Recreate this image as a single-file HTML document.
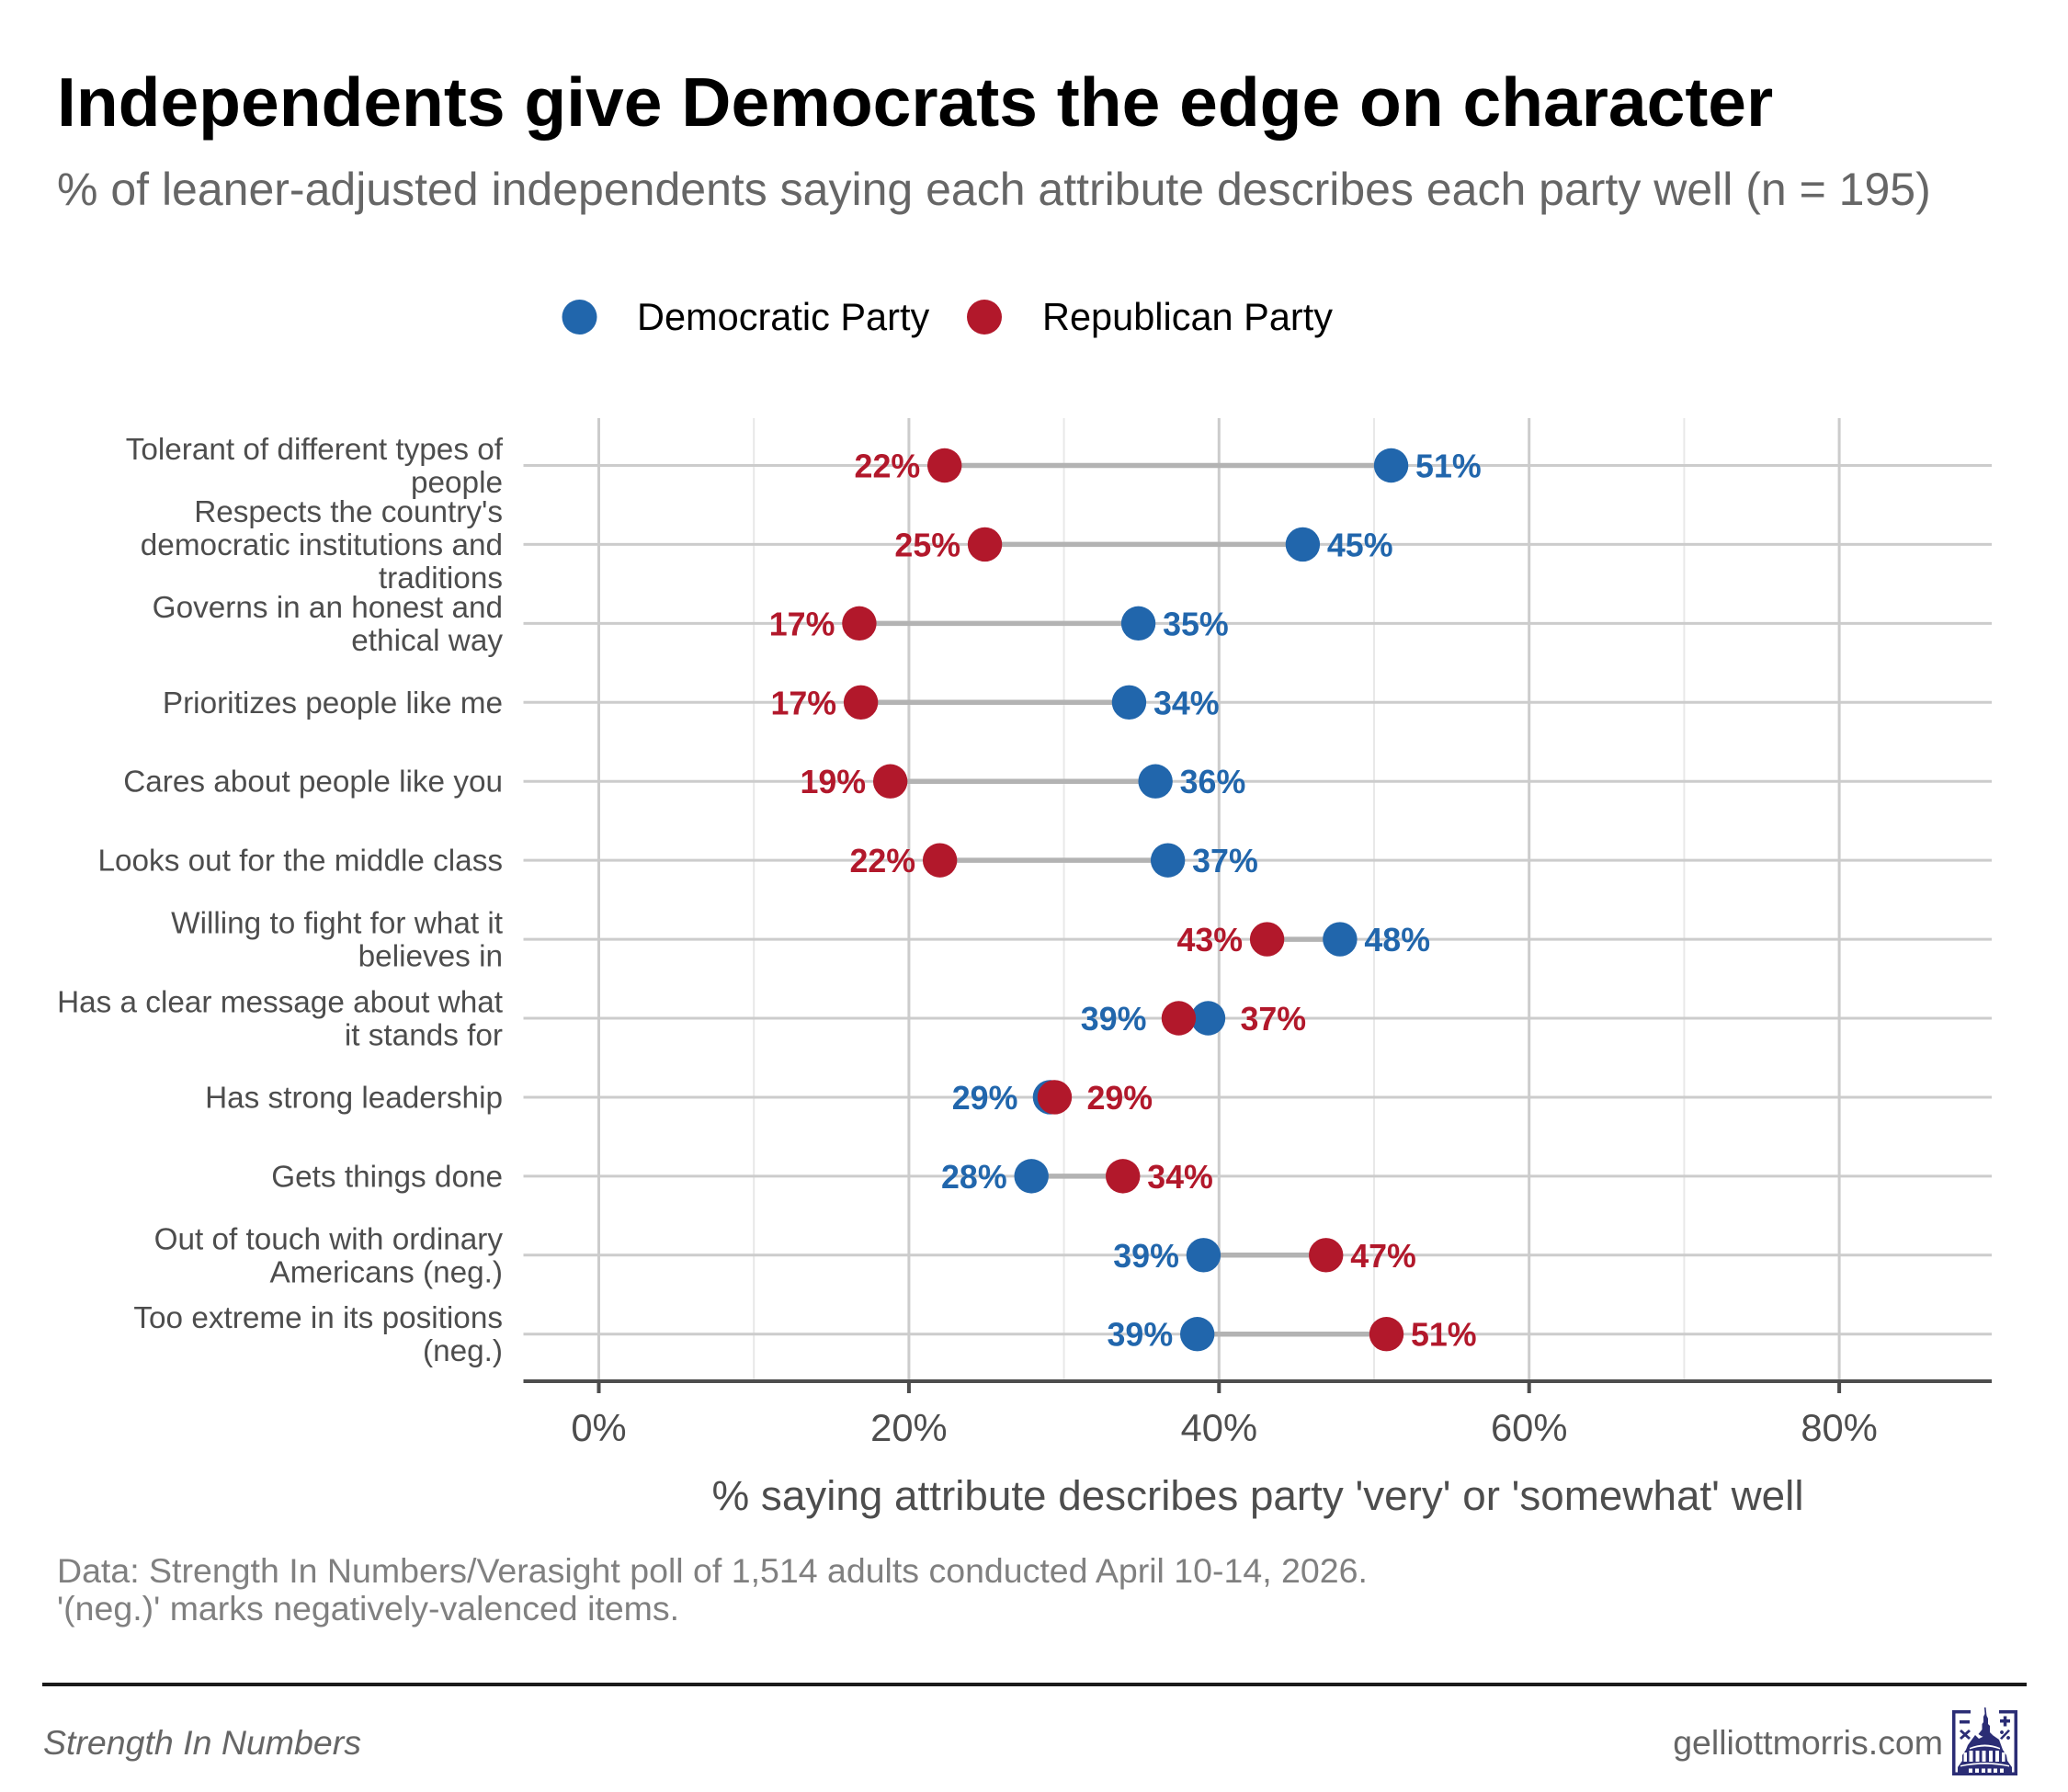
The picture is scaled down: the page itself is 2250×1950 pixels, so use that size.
<!DOCTYPE html>
<html lang="en">
<head>
<meta charset="utf-8">
<title>Independents give Democrats the edge on character</title>
<style>
html,body{margin:0;padding:0;background:#fff;}
svg{display:block;font-family:"Liberation Sans",Arial,sans-serif;}
</style>
</head>
<body>
<svg id="chart" xmlns="http://www.w3.org/2000/svg" width="2250" height="1950" viewBox="0 0 2250 1950">
  <rect width="2250" height="1950" fill="#ffffff"/>
  <text x="62" y="137" font-size="75" font-weight="700" fill="#000000">Independents give Democrats the edge on character</text>
  <text x="62" y="223" font-size="50" fill="#666666">% of leaner-adjusted independents saying each attribute describes each party well (n = 195)</text>

  <g>
    <circle cx="630.500" cy="345" r="19" fill="#2166ac"/>
    <text x="693" y="359" font-size="41.5" fill="#000000">Democratic Party</text>
    <circle cx="1071" cy="345" r="19" fill="#b2182b"/>
    <text x="1134" y="359" font-size="41.5" fill="#000000">Republican Party</text>
  </g>

  <g id="plot"></g>

  <text x="1368.500" y="1643" font-size="45.8" fill="#4d4d4d" text-anchor="middle">% saying attribute describes party 'very' or 'somewhat' well</text>

  <text x="62" y="1722" font-size="37.5" fill="#808080">Data: Strength In Numbers/Verasight poll of 1,514 adults conducted April 10-14, 2026.</text>
  <text x="62" y="1763" font-size="37.5" fill="#808080">'(neg.)' marks negatively-valenced items.</text>

  <rect x="46" y="1831" width="2159" height="4" fill="#1a1a1a"/>
  <text x="47" y="1909" font-size="37.5" font-style="italic" fill="#666666">Strength In Numbers</text>
  <text x="2114" y="1909" font-size="37.5" fill="#666666" text-anchor="end">gelliottmorris.com</text>

  <g fill="#2b2d75">
    <path d="M2124 1861h20v3.500h-16.500v64h64v-64h-16.500v-3.500h20v71h-71z"/>
    <path d="M2159 1858l1.500 0 1 9 1.500 3v6l2 2v7l3 3-7.500 3-5-2-3-2 4-5v-6l1.500-2v-6l1.500-3z"/>
    <rect x="2132" y="1872" width="11" height="3.500"/>
    <rect x="2176" y="1871" width="11" height="3.500"/>
    <rect x="2179.800" y="1867.500" width="3.500" height="11"/>
    <path d="M2134 1882l4 3.500 4-3.500 2 2-4 3.500 4 3.500-2 2-4-3.500-4 3.500-2-2 4-3.500-4-3.500z"/>
    <path d="M2185 1882l2 1.500-9 9.500-2-1.500zM2178 1883a2 2 0 1 0 .01 0zM2185 1889a2 2 0 1 0 .01 0z"/>
    <path d="M2130 1930v-7l5-7v-6l4-6 2-5 8-11 4 4 12-6 10 7 4 11 4 6 1 6 5 7v7z"/>
    <g fill="#ffffff">
      <path d="M2143 1902q16.500-7 33 0l0 1.500q-16.500-6-33 0z"/>
      <rect x="2136.500" y="1907" width="3.500" height="10"/><rect x="2142.500" y="1905" width="4" height="12"/><rect x="2149.500" y="1905" width="4" height="12"/><rect x="2156.500" y="1905" width="4" height="12"/><rect x="2164" y="1905" width="4" height="12"/><rect x="2171" y="1905" width="4" height="12"/><rect x="2178" y="1907" width="3.500" height="10"/>
      <path d="M2133 1921q26.500-6 53 0l0 1.500q-26.500-5.500-53 0z"/>
      <rect x="2142" y="1924.500" width="4" height="4.500"/><rect x="2149" y="1924.500" width="4" height="4.500"/><rect x="2156" y="1924.500" width="4" height="4.500"/><rect x="2162.500" y="1924.500" width="4" height="4.500"/><rect x="2169" y="1924.500" width="4" height="4.500"/><rect x="2176" y="1924.500" width="4" height="4.500"/>
    </g>
  </g>
</svg>
<script>
var attributes = [
  ["Tolerant of different types of", "people"],
  ["Respects the country's", "democratic institutions and", "traditions"],
  ["Governs in an honest and", "ethical way"],
  ["Prioritizes people like me"],
  ["Cares about people like you"],
  ["Looks out for the middle class"],
  ["Willing to fight for what it", "believes in"],
  ["Has a clear message about what", "it stands for"],
  ["Has strong leadership"],
  ["Gets things done"],
  ["Out of touch with ordinary", "Americans (neg.)"],
  ["Too extreme in its positions", "(neg.)"]
];
var demValues = [51.1, 45.4, 34.8, 34.2, 35.9, 36.7, 47.8, 39.3, 29.1, 27.9, 39.0, 38.6];
var repValues = [22.3, 24.9, 16.8, 16.9, 18.8, 22.0, 43.1, 37.4, 29.4, 33.8, 46.9, 50.8];
var demLabels = ["51%", "45%", "35%", "34%", "36%", "37%", "48%", "39%", "29%", "28%", "39%", "39%"];
var repLabels = ["22%", "25%", "17%", "17%", "19%", "22%", "43%", "37%", "29%", "34%", "47%", "51%"];
var majorTicks = [0, 20, 40, 60, 80];
var minorTicks = [10, 30, 50, 70];
var tickSuffix = "%";

var NS = "http://www.w3.org/2000/svg";
var plot = document.getElementById("plot");
var panelLeft = 569.5, panelRight = 2167, panelTop = 455, axisY = 1503;
function xScale(v) { return 651.5 + 16.87 * v; }
function yScale(i) { return 506.5 + 85.93 * i; }
function make(tag, attrs) {
  var el = document.createElementNS(NS, tag);
  for (var k in attrs) el.setAttribute(k, attrs[k]);
  plot.appendChild(el);
  return el;
}

minorTicks.forEach(function (t) {
  var el = make("line", {x1: xScale(t), x2: xScale(t), y1: panelTop, y2: axisY, stroke: "#e8e8e8", "stroke-width": 2});
  
  
});
majorTicks.forEach(function (t) {
  var el = make("line", {x1: xScale(t), x2: xScale(t), y1: panelTop, y2: axisY, stroke: "#cccccc", "stroke-width": 3});
  
  
});
attributes.forEach(function (lines, i) {
  var el = make("line", {x1: panelLeft, x2: panelRight, y1: yScale(i), y2: yScale(i), stroke: "#cccccc", "stroke-width": 3});
  
  
});

var axisLine = make("line", {x1: panelLeft, x2: panelRight, y1: axisY, y2: axisY, stroke: "#4d4d4d", "stroke-width": 4});



majorTicks.forEach(function (t) {
  var tick = make("line", {x1: xScale(t), x2: xScale(t), y1: axisY, y2: 1516, stroke: "#4d4d4d", "stroke-width": 4});
  
  
  var lab = make("text", {x: xScale(t), y: 1568, "font-size": 41.7, fill: "#4d4d4d", "text-anchor": "middle"});
  
  
  lab.textContent = t + tickSuffix;
});

attributes.forEach(function (lines, i) {
  var y = yScale(i);
  lines.forEach(function (line, j) {
    var t = make("text", {x: 547, y: y + 11.5 + (j - (lines.length - 1) / 2) * 36, "font-size": 33.3, fill: "#4d4d4d", "text-anchor": "end"});
    
    
    t.textContent = line;
  });

  var d = demValues[i], r = repValues[i];
  var seg = make("line", {x1: xScale(d), x2: xScale(r), y1: y, y2: y, stroke: "#b3b3b3", "stroke-width": 5.5});
  
  

  var dd = make("circle", {cx: xScale(d), cy: y, r: 18.7, fill: "#2166ac"});
  
  
  var rd = make("circle", {cx: xScale(r), cy: y, r: 18.7, fill: "#b2182b"});
  
  

  var close = Math.abs(d - r) < 3;
  var gap = close ? 35 : 26.5;
  var lo = Math.min(xScale(d), xScale(r)) - gap;
  var hi = Math.max(xScale(d), xScale(r)) + gap;
  var demLeft = close || d < r;
  var dl = make("text", {x: demLeft ? lo : hi, y: y + 13, "font-size": 35.8, "font-weight": 700, fill: "#2166ac", "text-anchor": demLeft ? "end" : "start"});
  
  
  dl.textContent = demLabels[i];
  var rl = make("text", {x: demLeft ? hi : lo, y: y + 13, "font-size": 35.8, "font-weight": 700, fill: "#b2182b", "text-anchor": demLeft ? "start" : "end"});
  
  
  rl.textContent = repLabels[i];
});
</script>
</body>
</html>
